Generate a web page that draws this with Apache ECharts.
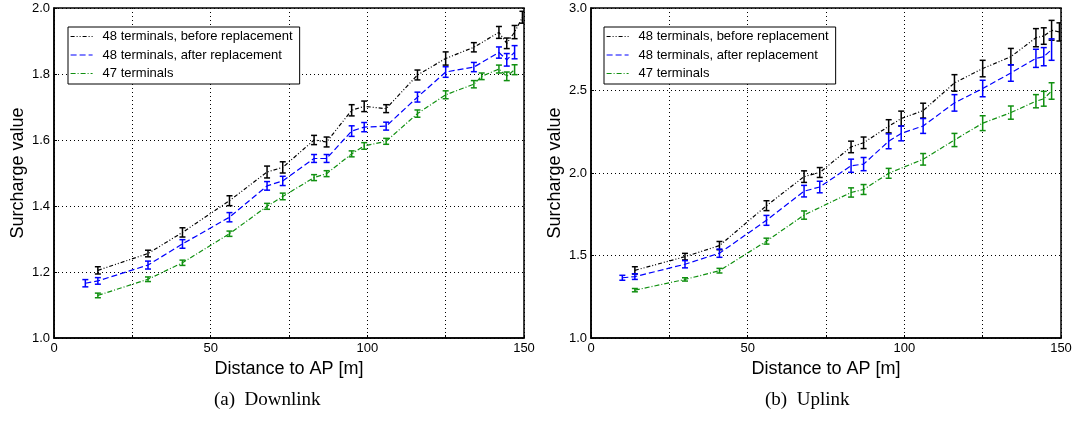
<!DOCTYPE html>
<html>
<head>
<meta charset="utf-8">
<script src="https://cdn.jsdelivr.net/npm/echarts@6/dist/echarts.min.js"></script>
<style>
    html, body { margin: 0; padding: 0; background: #fff; }
    #chartin { width: 1075px; height: 421px; }
</style>
</head>
<body>
<div id="chartin"></div>
<script>
// series names
const names = ['48 terminals, before replacement', '48 terminals, after replacement', '47 terminals'];

// downlink
const dlBlackX = [14, 30, 41, 56, 68, 73, 83, 87, 95, 99, 106, 116, 125, 134, 142, 144.5, 147, 149.5];
const dlBlackY = [1.205, 1.256, 1.320, 1.416, 1.503, 1.517, 1.600, 1.594, 1.690, 1.702, 1.695, 1.797, 1.847, 1.881, 1.926, 1.893, 1.927, 1.972];
const dlBlackE = [0.011, 0.010, 0.014, 0.015, 0.018, 0.017, 0.014, 0.015, 0.017, 0.016, 0.012, 0.015, 0.020, 0.014, 0.018, 0.016, 0.020, 0.018];

const dlBlueX = [10, 14, 30, 41, 56, 68, 73, 83, 87, 95, 99, 106, 116, 125, 134, 142, 144.5, 147];
const dlBlueY = [1.166, 1.173, 1.221, 1.285, 1.366, 1.461, 1.476, 1.544, 1.544, 1.627, 1.639, 1.642, 1.730, 1.806, 1.821, 1.865, 1.843, 1.866];
const dlBlueE = [0.011, 0.010, 0.012, 0.013, 0.014, 0.013, 0.014, 0.012, 0.012, 0.016, 0.014, 0.012, 0.015, 0.016, 0.014, 0.017, 0.019, 0.020];

const dlGreenX = [14, 30, 41, 56, 68, 73, 83, 87, 95, 99, 106, 116, 125, 134, 136.5, 142, 144.5, 147];
const dlGreenY = [1.129, 1.178, 1.228, 1.316, 1.399, 1.429, 1.486, 1.498, 1.558, 1.582, 1.596, 1.680, 1.737, 1.769, 1.793, 1.815, 1.793, 1.813];
const dlGreenE = [0.007, 0.007, 0.008, 0.008, 0.009, 0.010, 0.009, 0.009, 0.009, 0.010, 0.009, 0.011, 0.012, 0.011, 0.010, 0.012, 0.013, 0.015];

// uplink
const ulBlackX = [14, 30, 41, 56, 68, 73, 83, 87, 95, 99, 106, 116, 125, 134, 142, 144.5, 147, 149.5];
const ulBlackY = [1.410, 1.493, 1.560, 1.802, 1.978, 2.003, 2.158, 2.183, 2.283, 2.330, 2.378, 2.546, 2.633, 2.705, 2.820, 2.830, 2.865, 2.855];
const ulBlackE = [0.022, 0.02, 0.025, 0.03, 0.035, 0.03, 0.035, 0.035, 0.04, 0.045, 0.045, 0.05, 0.05, 0.05, 0.055, 0.05, 0.06, 0.055];

const ulBlueX = [10, 14, 30, 41, 56, 68, 73, 83, 87, 95, 99, 106, 116, 125, 134, 142, 144.5, 147];
const ulBlueY = [1.365, 1.372, 1.447, 1.514, 1.713, 1.890, 1.915, 2.044, 2.054, 2.192, 2.240, 2.285, 2.425, 2.512, 2.606, 2.695, 2.705, 2.748];
const ulBlueE = [0.015, 0.017, 0.022, 0.025, 0.03, 0.035, 0.035, 0.04, 0.04, 0.045, 0.045, 0.045, 0.05, 0.05, 0.05, 0.055, 0.055, 0.065];

const ulGreenX = [14, 30, 41, 56, 68, 83, 87, 95, 106, 116, 125, 134, 142, 144.5, 147];
const ulGreenY = [1.290, 1.355, 1.408, 1.587, 1.745, 1.882, 1.900, 1.998, 2.083, 2.200, 2.302, 2.366, 2.435, 2.450, 2.497];
const ulGreenE = [0.01, 0.01, 0.014, 0.018, 0.025, 0.028, 0.03, 0.03, 0.035, 0.04, 0.045, 0.04, 0.04, 0.045, 0.05];

// axis ticks
const xTicks = [0, 150, 25];
const dlTicks = [1.0, 2.0, 0.2];
const ulTicks = [1.0, 3.0, 0.5];

const colors = ['#000000', '#0000ff', '#109010'];
const dashes = [[4, 2, 1, 2, 1, 2], [6, 3], [5, 2, 1, 2]];
const font = 'Liberation Sans, Arial, sans-serif';

function zip(xs, ys){
    return xs.map((x, i) => [x, ys[i]]);
}

function zip3(xs, ys, es){
    return xs.map((x, i) => [x, ys[i], es[i]]);
}

function errorBar(color){
    return function(params, api){
        const x = api.value(0), y = api.value(1), e = api.value(2);
        const top = api.coord([x, y + e]);
        const bot = api.coord([x, y - e]);
        const w = 3;
        const st = { stroke: color, lineWidth: 1.5 };
        return {
            type: 'group',
            children: [
                { type: 'line', shape: { x1: top[0], y1: top[1], x2: bot[0], y2: bot[1] }, style: st },
                { type: 'line', shape: { x1: top[0] - w, y1: top[1], x2: top[0] + w, y2: top[1] }, style: st },
                { type: 'line', shape: { x1: bot[0] - w, y1: bot[1], x2: bot[0] + w, y2: bot[1] }, style: st }
            ]
        };
    };
}

function xAxisFor(idx){
    return {
        gridIndex: idx, type: 'value', min: xTicks[0], max: xTicks[1], interval: xTicks[2],
        name: 'Distance to AP [m]', nameLocation: 'middle', nameGap: 18,
        nameTextStyle: { fontFamily: font, fontSize: 18, color: '#000' },
        axisLine: { lineStyle: { color: '#000', width: 1.5 } },
        axisTick: { inside: true, length: 3, lineStyle: { color: '#000' } },
        axisLabel: {
            fontFamily: font, fontSize: 13, color: '#000', margin: 4,
            formatter: v => (v % 50 === 0 ? String(v) : '')
        },
        splitLine: { show: true, lineStyle: { color: '#000', type: [1, 3], width: 1 } }
    };
}

function yAxisFor(idx, ticks){
    return {
        gridIndex: idx, type: 'value', min: ticks[0], max: ticks[1], interval: ticks[2],
        name: 'Surcharge value', nameLocation: 'middle', nameGap: 27,
        nameTextStyle: { fontFamily: font, fontSize: 18, color: '#000' },
        axisLine: { lineStyle: { color: '#000', width: 1.5 } },
        axisTick: { inside: true, length: 3, lineStyle: { color: '#000' } },
        axisLabel: { fontFamily: font, fontSize: 13, color: '#000', margin: 4, formatter: v => v.toFixed(1) },
        splitLine: { show: true, lineStyle: { color: '#000', type: [1, 3], width: 1 } }
    };
}

function legendFor(left){
    return {
        data: names, orient: 'vertical', left: left, top: 27,
        itemWidth: 22, itemHeight: 12, itemGap: 5.5,
        padding: [3, 7, 4, 2],
        itemStyle: { opacity: 0 },
        lineStyle: { width: 1.2 },
        backgroundColor: '#fff', borderColor: '#000', borderWidth: 1, borderRadius: 0,
        textStyle: { fontFamily: font, fontSize: 13, color: '#000', padding: [0, 0, 0, 5] },
        selectedMode: false
    };
}

function seriesFor(idx, sets){
    const out = [];
    sets.forEach((s, i) => {
        out.push({
            name: names[i], type: 'line', xAxisIndex: idx, yAxisIndex: idx,
            data: zip(s[0], s[1]), symbol: 'none', silent: true,
            lineStyle: { color: colors[i], width: 1.2, type: dashes[i] },
            itemStyle: { color: colors[i] }
        });
        out.push({
            name: 'err' + idx + i, type: 'custom', xAxisIndex: idx, yAxisIndex: idx,
            data: zip3(s[0], s[1], s[2]), encode: { x: 0, y: 1 }, clip: true, silent: true,
            renderItem: errorBar(colors[i])
        });
    });
    return out;
}

function chartload(){
    let myChart = echarts.init(document.getElementById('chartin'));

    let option = {
        animation: false,
        grid: [
            { left: 54, right: 551, top: 8, bottom: 83, show: true, borderColor: '#000', borderWidth: 1.5 },
            { left: 591, right: 14, top: 8, bottom: 83, show: true, borderColor: '#000', borderWidth: 1.5 }
        ],
        legend: [legendFor(68), legendFor(604)],
        xAxis: [xAxisFor(0), xAxisFor(1)],
        yAxis: [yAxisFor(0, dlTicks), yAxisFor(1, ulTicks)],
        series: seriesFor(0, [[dlBlackX, dlBlackY, dlBlackE], [dlBlueX, dlBlueY, dlBlueE], [dlGreenX, dlGreenY, dlGreenE]])
            .concat(seriesFor(1, [[ulBlackX, ulBlackY, ulBlackE], [ulBlueX, ulBlueY, ulBlueE], [ulGreenX, ulGreenY, ulGreenE]])),
        graphic: [
            { type: 'text', left: 214, top: 391, style: { text: '(a)  Downlink', font: '19px "Liberation Serif", "Times New Roman", serif', fill: '#000' } },
            { type: 'text', left: 765, top: 391, style: { text: '(b)  Uplink', font: '19px "Liberation Serif", "Times New Roman", serif', fill: '#000' } }
        ]
    };
    myChart.setOption(option);
}

chartload();
</script>
</body>
</html>
